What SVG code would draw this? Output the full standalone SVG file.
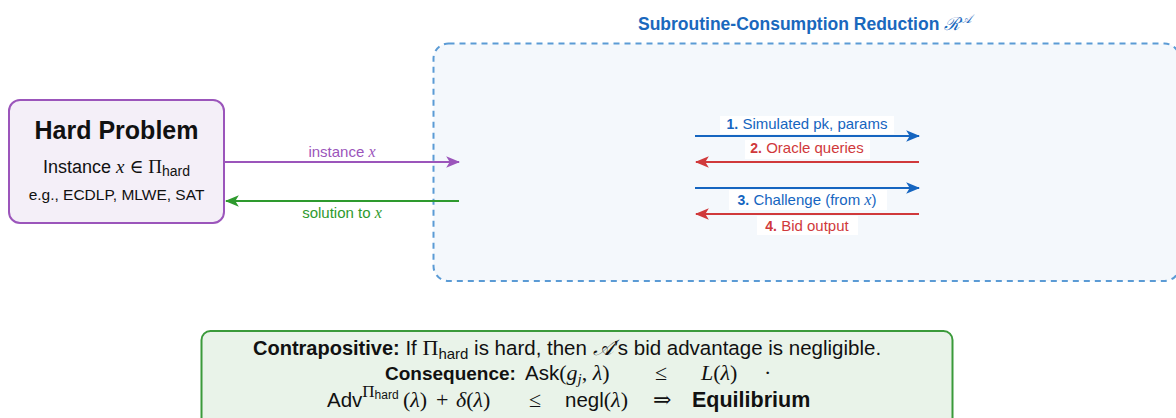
<svg xmlns="http://www.w3.org/2000/svg" width="1176" height="418" viewBox="0 0 1176 418">
<defs>
<style>
.sans{font-family:"Liberation Sans","DejaVu Sans",sans-serif;}
.m{font-family:"Liberation Serif","DejaVu Serif",serif;font-style:italic;}
.r{font-family:"Liberation Serif","DejaVu Serif",serif;}
.b{font-weight:bold;}
.lbl{fill:#ffffff;}
</style>
<marker id="ap" viewBox="0 0 12 10" refX="11" refY="5" markerWidth="14" markerHeight="12" markerUnits="userSpaceOnUse" orient="auto"><path d="M0,0 L12,5 L0,10 L3,5 z" fill="#9b55bb"/></marker>
<marker id="ag" viewBox="0 0 12 10" refX="11" refY="5" markerWidth="14" markerHeight="12" markerUnits="userSpaceOnUse" orient="auto"><path d="M0,0 L12,5 L0,10 L3,5 z" fill="#2e9a2e"/></marker>
<marker id="ab" viewBox="0 0 12 10" refX="11" refY="5" markerWidth="14" markerHeight="12" markerUnits="userSpaceOnUse" orient="auto"><path d="M0,0 L12,5 L0,10 L3,5 z" fill="#1565c0"/></marker>
<marker id="ar" viewBox="0 0 12 10" refX="11" refY="5" markerWidth="14" markerHeight="12" markerUnits="userSpaceOnUse" orient="auto"><path d="M0,0 L12,5 L0,10 L3,5 z" fill="#d0393b"/></marker>
</defs>
<rect width="1176" height="418" fill="#ffffff"/>

<g id="reduction">
<rect x="433.5" y="43.5" width="746" height="237.5" rx="15" fill="#f4f8fc" stroke="#5b9bd5" stroke-width="2" stroke-dasharray="6,5"/>
<text class="sans b" x="638" y="30" font-size="17.5" fill="#1a68bd">Subroutine-Consumption Reduction <tspan class="r" font-style="italic" font-weight="normal" font-size="18">ℛ</tspan><tspan class="m" font-weight="normal" font-size="12" dy="-7">𝒜</tspan></text>
</g>

<g id="hard-problem">
<rect x="9" y="100" width="215" height="123" rx="11" fill="#f4eff8" stroke="#9b55bb" stroke-width="2"/>
<text class="sans b" x="116.5" y="139" text-anchor="middle" font-size="25" fill="#111">Hard Problem</text>
<text class="sans" x="116.5" y="173" text-anchor="middle" font-size="18" fill="#111">Instance <tspan class="m" font-size="19">x</tspan> <tspan class="r" font-size="19">∈ Π</tspan><tspan font-size="14" dy="3">hard</tspan></text>
<text class="sans" x="116.5" y="200" text-anchor="middle" font-size="15.5" fill="#111">e.g., ECDLP, MLWE, SAT</text>
</g>

<g id="summary">
<rect x="201.5" y="331" width="751" height="100" rx="9" fill="#e9f3e9" stroke="#3a9a3a" stroke-width="2"/>
<text class="sans" x="253" y="355" font-size="20.5" fill="#111"><tspan class="b" font-size="20">Contrapositive:</tspan> If <tspan class="r" font-size="22">Π</tspan><tspan font-size="15" dy="4">hard</tspan><tspan dy="-4"> is hard, then </tspan><tspan class="m" font-size="22">𝒜</tspan>’s bid advantage is negligible.</text>
<text class="sans" y="380" font-size="20.5" fill="#111"><tspan class="b" font-size="19" x="385">Consequence:</tspan><tspan x="525">Ask</tspan><tspan class="r" font-size="22">(</tspan><tspan class="m" font-size="22">g</tspan><tspan class="m" font-size="15" dy="4">j</tspan><tspan class="r" font-size="22" dy="-4">, </tspan><tspan class="m" font-size="22">λ</tspan><tspan class="r" font-size="22">)</tspan><tspan class="r" font-size="22" x="655">≤</tspan><tspan class="m" font-size="22" x="701">L</tspan><tspan class="r" font-size="22">(</tspan><tspan class="m" font-size="22">λ</tspan><tspan class="r" font-size="22">)</tspan><tspan class="r" font-size="22" x="764">·</tspan></text>
<text class="sans" y="407" font-size="20.5" fill="#111"><tspan x="327">Adv</tspan><tspan class="r" font-size="17" dy="-10">Π</tspan><tspan font-size="12" dy="2">hard</tspan><tspan class="r" font-size="22" dy="8" x="403">(</tspan><tspan class="m" font-size="22">λ</tspan><tspan class="r" font-size="22">)</tspan><tspan class="r" font-size="22" x="436">+</tspan><tspan class="m" font-size="22" x="456">δ</tspan><tspan class="r" font-size="22">(</tspan><tspan class="m" font-size="22">λ</tspan><tspan class="r" font-size="22">)</tspan><tspan class="r" font-size="22" x="529">≤</tspan><tspan x="565">negl</tspan><tspan class="r" font-size="22">(</tspan><tspan class="m" font-size="22">λ</tspan><tspan class="r" font-size="22">)</tspan><tspan class="r" font-size="22" x="653">⇒</tspan><tspan class="b" font-size="21.5" x="692">Equilibrium</tspan></text>
</g>

<g id="connectors">
<line x1="224" y1="162" x2="459" y2="162" stroke="#9b55bb" stroke-width="2" marker-end="url(#ap)"/>
<text class="sans" x="342" y="157" text-anchor="middle" font-size="15" fill="#9b55bb">instance <tspan class="m" font-size="16">x</tspan></text>
<line x1="459" y1="201" x2="226" y2="201" stroke="#2e9a2e" stroke-width="2" marker-end="url(#ag)"/>
<text class="sans" x="342" y="218" text-anchor="middle" font-size="15" fill="#2e9a2e">solution to <tspan class="m" font-size="16">x</tspan></text>

<line x1="695" y1="136" x2="919" y2="136" stroke="#1565c0" stroke-width="2" marker-end="url(#ab)"/>
<rect class="lbl" x="720" y="116" width="174" height="18"/>
<text class="sans" x="807" y="129" text-anchor="middle" font-size="15" fill="#1565c0"><tspan class="b" font-size="14">1.</tspan> Simulated pk, params</text>

<line x1="919" y1="162" x2="696" y2="162" stroke="#d0393b" stroke-width="2" marker-end="url(#ar)"/>
<rect class="lbl" x="745" y="140" width="125" height="19"/>
<text class="sans" x="807" y="153" text-anchor="middle" font-size="15" fill="#d0393b"><tspan class="b" font-size="14">2.</tspan> Oracle queries</text>

<line x1="695" y1="188" x2="919" y2="188" stroke="#1565c0" stroke-width="2" marker-end="url(#ab)"/>
<rect class="lbl" x="729" y="190" width="158" height="20"/>
<text class="sans" x="807" y="205" text-anchor="middle" font-size="15" fill="#1565c0"><tspan class="b" font-size="14">3.</tspan> Challenge (from <tspan class="m" font-size="16">x</tspan>)</text>

<line x1="919" y1="214" x2="696" y2="214" stroke="#d0393b" stroke-width="2" marker-end="url(#ar)"/>
<rect class="lbl" x="757" y="216" width="101" height="19"/>
<text class="sans" x="807" y="231" text-anchor="middle" font-size="15" fill="#d0393b"><tspan class="b" font-size="14">4.</tspan> Bid output</text>
</g>
</svg>
